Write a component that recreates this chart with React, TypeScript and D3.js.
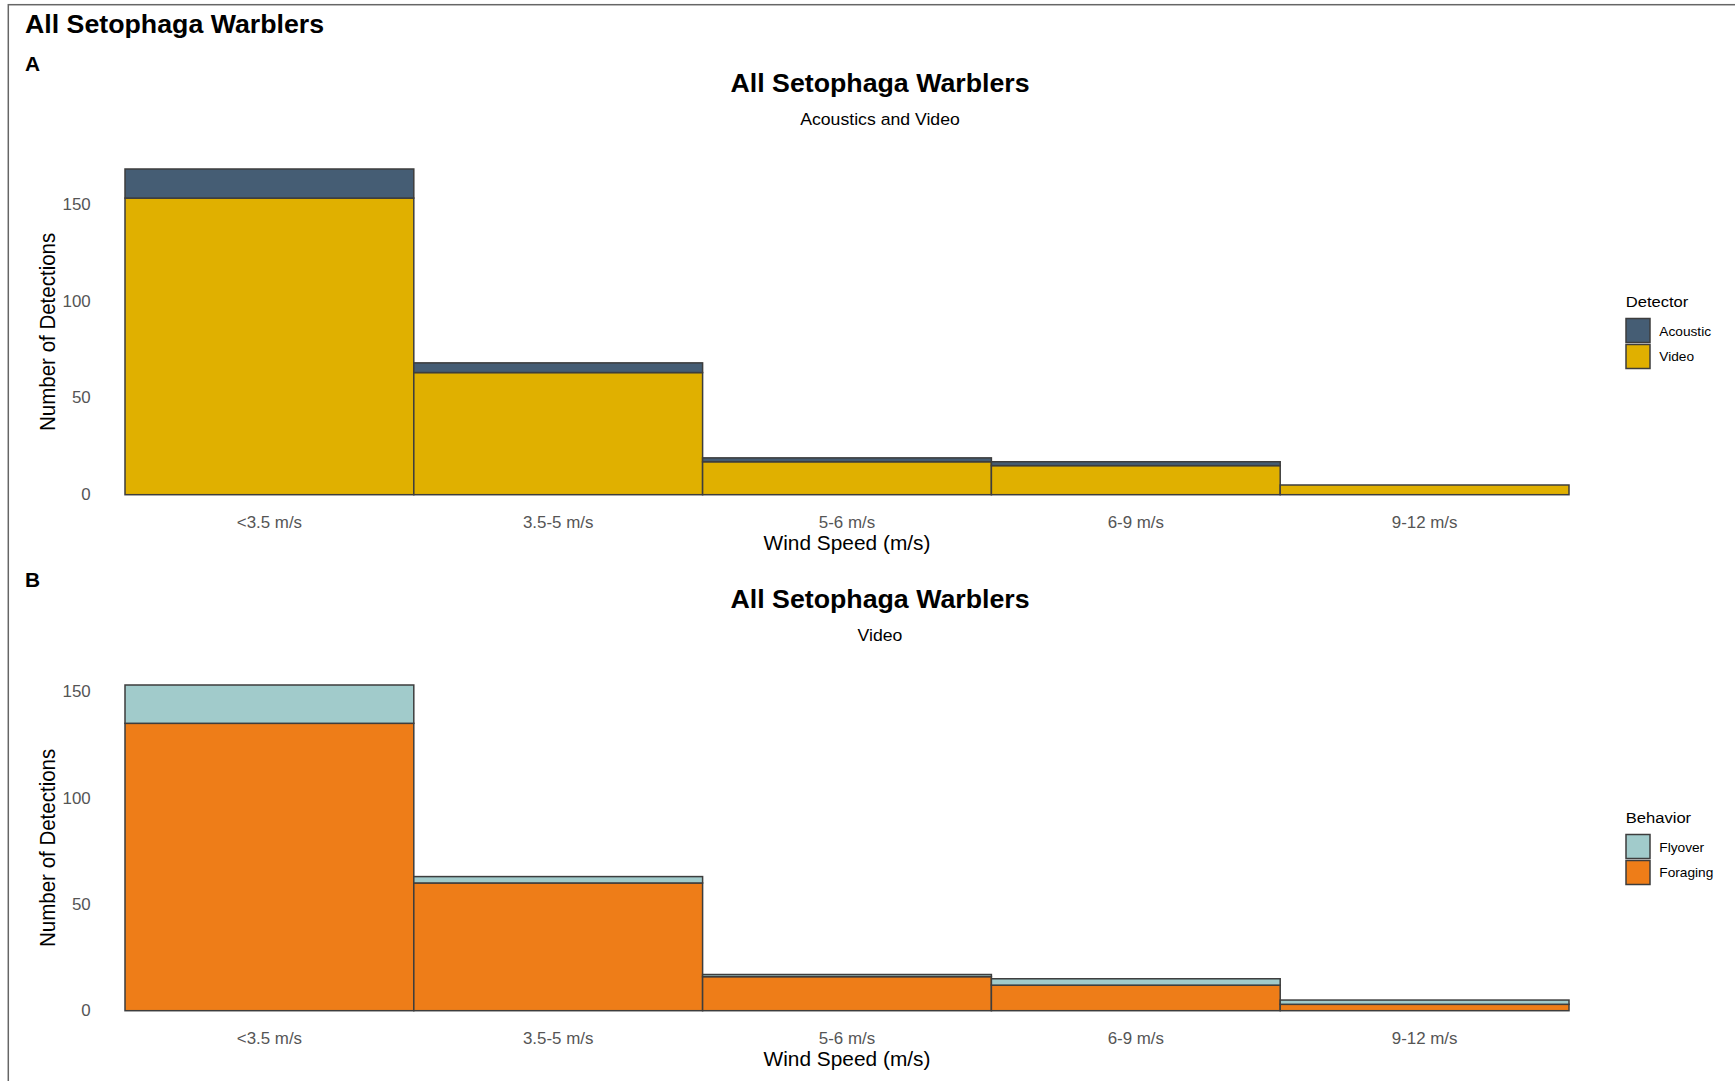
import React from "react";
import * as d3 from "d3";

// Wind-speed bins shared by both panels
const windBins = ["<3.5 m/s", "3.5-5 m/s", "5-6 m/s", "6-9 m/s", "9-12 m/s"];

// Panel A: detections by detector type
const videoCounts = [153, 63, 17, 15, 5];
const acousticCounts = [15, 5, 2, 2, 0];

// Panel B: video detections by behavior
const foragingCounts = [135, 60, 16, 12, 3];
const flyoverCounts = [18, 3, 1, 3, 2];

const countTicks = [0, 50, 100, 150];

const FONT = "'Liberation Sans', Arial, Helvetica, sans-serif";
const SX = 1.07; // slightly wide lettering

type TProps = {
  x: number;
  y: number;
  size: number;
  weight?: string | number;
  fill?: string;
  anchor?: "start" | "middle" | "end";
  rotate?: number;
  children: React.ReactNode;
};

function T({ x, y, size, weight = "normal", fill = "#000", anchor = "start", rotate, children }: TProps) {
  const tf = `translate(${x},${y}) scale(${SX},1)` + (rotate ? ` rotate(${rotate})` : "");
  return (
    <text transform={tf} fontSize={size} fontWeight={weight} fill={fill} textAnchor={anchor} fontFamily={FONT}>
      {children}
    </text>
  );
}

type Series = { name: string; values: number[]; color: string };

type PanelProps = {
  offset: number;
  letter: string;
  title: string;
  subtitle: string;
  legendTitle: string;
  stackOrder: Series[]; // bottom to top
  legendOrder: Series[];
};

const STROKE = "#3d3d3d";
const TICK_GREY = "#555555";

function Panel({ offset, letter, title, subtitle, legendTitle, stackOrder, legendOrder }: PanelProps) {
  const plotLeft = 125;
  const plotRight = 1569;
  const plotBottom = offset + 494.7;
  const plotTop = offset + 169;

  const rows = windBins.map((bin, i) => {
    const r: Record<string, number | string> = { bin };
    stackOrder.forEach((s) => (r[s.name] = s.values[i]));
    return r;
  });
  const stacked = d3.stack<Record<string, number | string>>().keys(stackOrder.map((s) => s.name))(rows as any);
  const maxTotal = d3.max(stacked[stacked.length - 1], (d) => d[1]) as number;

  const x = d3.scaleBand<string>().domain(windBins).range([plotLeft, plotRight]).padding(0);
  const y = d3.scaleLinear().domain([0, maxTotal]).range([plotBottom, plotTop]);

  const mid = (plotLeft + plotRight) / 2;

  return (
    <g>
      <T x={25} y={offset + 70.7} size={19.5} weight="bold">{letter}</T>
      <T x={880} y={offset + 91.7} size={25} weight="bold" anchor="middle">{title}</T>
      <T x={880} y={offset + 125} size={16.5} anchor="middle">{subtitle}</T>

      {/* stacked bars */}
      {stacked.map((layer, li) => (
        <g key={stackOrder[li].name}>
          {layer.map((d, i) =>
            d[1] - d[0] > 0 ? (
              <rect
                key={windBins[i]}
                x={x(windBins[i])!}
                y={y(d[1])}
                width={x.bandwidth()}
                height={y(d[0]) - y(d[1])}
                fill={stackOrder[li].color}
                stroke={STROKE}
                strokeWidth={1.5}
              />
            ) : null
          )}
        </g>
      ))}

      {/* y axis labels */}
      {countTicks.map((t) => (
        <T key={t} x={90.7} y={y(t) + 5.7} size={15.8} fill={TICK_GREY} anchor="end">{t}</T>
      ))}
      {/* x axis labels */}
      {windBins.map((b) => (
        <T key={b} x={x(b)! + x.bandwidth() / 2} y={offset + 528} size={15.8} fill={TICK_GREY} anchor="middle">{b}</T>
      ))}

      <T x={mid} y={offset + 550} size={19.5} anchor="middle">Wind Speed (m/s)</T>
      <T x={54.5} y={(plotTop + plotBottom) / 2} size={20.5} anchor="middle" rotate={-90}>Number of Detections</T>

      {/* legend */}
      <T x={1625.7} y={offset + 306.7} size={15.5}>{legendTitle}</T>
      {legendOrder.map((s, i) => (
        <g key={s.name}>
          <rect x={1626} y={offset + 318.5 + i * 26} width={24} height={24} fill={s.color} stroke={STROKE} strokeWidth={1.5} />
          <T x={1659.3} y={offset + 335.7 + i * 25.5} size={12.8}>{s.name}</T>
        </g>
      ))}
    </g>
  );
}

export default function App() {
  const acoustic: Series = { name: "Acoustic", values: acousticCounts, color: "#455D74" };
  const video: Series = { name: "Video", values: videoCounts, color: "#E0B000" };
  const flyover: Series = { name: "Flyover", values: flyoverCounts, color: "#A1CBCB" };
  const foraging: Series = { name: "Foraging", values: foragingCounts, color: "#EE7D18" };

  return (
    <svg
      width={1735}
      height={1081}
      style={{ position: "absolute", left: 0, top: 0, background: "#fff" }}
    >
      <rect x={0} y={0} width={1735} height={1081} fill="#fff" />
      <rect x={8.3} y={4.7} width={1800} height={1200} fill="none" stroke="#666" strokeWidth={1.5} />
      <T x={25} y={33} size={25} weight="bold">All Setophaga Warblers</T>

      <Panel
        offset={0}
        letter="A"
        title="All Setophaga Warblers"
        subtitle="Acoustics and Video"
        legendTitle="Detector"
        stackOrder={[video, acoustic]}
        legendOrder={[acoustic, video]}
      />
      <Panel
        offset={516}
        letter="B"
        title="All Setophaga Warblers"
        subtitle="Video"
        legendTitle="Behavior"
        stackOrder={[foraging, flyover]}
        legendOrder={[flyover, foraging]}
      />
    </svg>
  );
}
